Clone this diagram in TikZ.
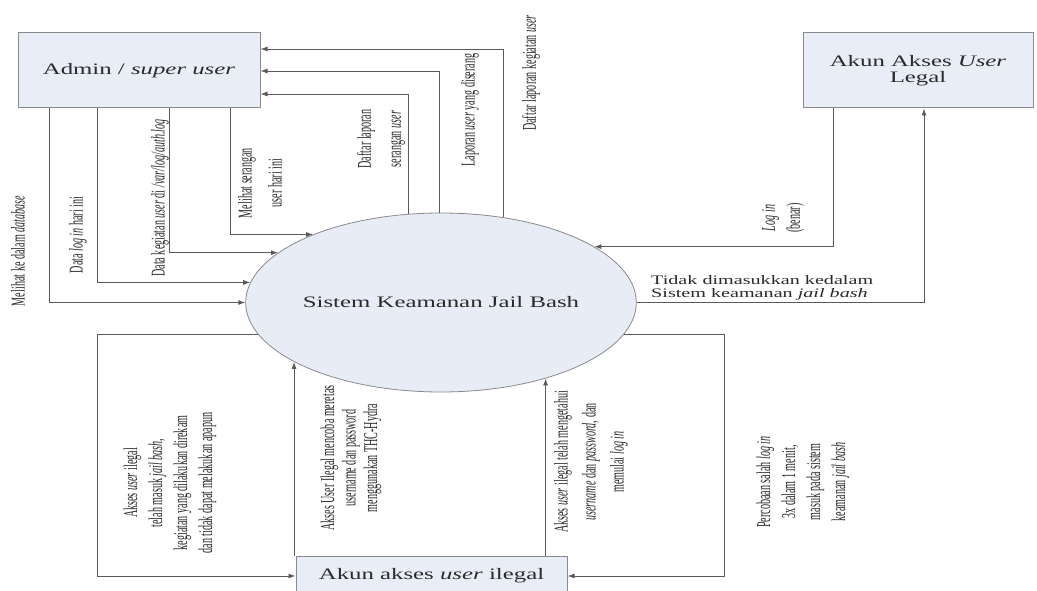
\documentclass[tikz,border=0pt]{standalone}
\usepackage{fontspec}
\setmainfont{Liberation Serif}
\newfontfamily\wideserif[FakeStretch=1.55]{Liberation Serif}
\newfontfamily\narrowserif[FakeStretch=0.52]{Liberation Serif}
\usetikzlibrary{shapes.geometric}
\usetikzlibrary{arrows.meta}
\definecolor{boxfill}{HTML}{E8EDF7}
\definecolor{procfill}{HTML}{E7ECF6}
\definecolor{edge}{HTML}{8A8A8A}
\definecolor{wire}{HTML}{5A5A5A}
\definecolor{ink}{HTML}{2A2A2A}

\begin{document}
\begin{tikzpicture}[x=1pt, y=-1pt,
    entity/.style={draw=edge, fill=boxfill, line width=1pt, minimum height=75pt, inner sep=0pt, align=center, text=ink, font=\wideserif\fontsize{16}{16}\selectfont},
    proc/.style={ellipse, draw=edge, fill=procfill, line width=0.8pt, minimum width=364pt, minimum height=179pt, inner sep=0pt, text=ink, font=\wideserif\fontsize{16}{16}\selectfont},
    flow/.style={draw=wire, line width=0.9pt, -{Latex[length=7pt,width=5pt]}},
    vlabel/.style={rotate=90, align=center, inner sep=0pt, text=ink, font=\narrowserif\fontsize{19.5}{25}\selectfont},
    hlabel/.style={align=left, inner sep=0pt, text=ink, font=\wideserif\fontsize{13}{13.5}\selectfont}]
    \path[fill=white] (0,0) rectangle (1037,591);
    \useasboundingbox (0,0) rectangle (1037,591);

    % entitas dan proses
    \node[entity, minimum width=242pt] (adm) at (139,70.5) {Admin / \textit{super user}};
    \node[entity, minimum width=230pt] (leg) at (918,70.5) {Akun Akses \textit{User}\\Legal};
    \node[proc] (sys) at (441,302.5) {Sistem Keamanan Jail Bash};
    \node[entity, minimum width=271pt, minimum height=40pt] (ilg) at (431.5,576) {Akun akses \textit{user} ilegal};

    % sistem -> admin
    \draw[flow] (sys.54) |- (adm.east |- 0,49);
    \draw[flow] (sys.91) |- (adm.east |- 0,71);
    \draw[flow] (sys.110) |- (adm.east |- 0,94);
    % admin -> sistem
    \draw[flow] (adm.south -| 230,0) |- (sys.152);
    \draw[flow] (adm.south -| 169,0) |- (sys.163);
    \draw[flow] (adm.south -| 97,0) |- (sys.174);
    \draw[flow] (adm.south -| 49,0) |- (sys.180);
    % user legal
    \draw[flow] (leg.south -| 833,0) |- (sys.20);
    \draw[flow] (sys.0) -| (leg.south -| 924,0);
    % user ilegal
    \coordinate (lloop) at (97,0);
    \coordinate (rloop) at (724,0);
    \draw[flow] (sys.190) -| (lloop |- ilg.west) -- (ilg.west);
    \draw[flow] (sys.350) -| (rloop |- ilg.east) -- (ilg.east);
    \draw[flow] (ilg.north -| sys.202) -- (sys.202);
    \draw[flow] (ilg.north -| sys.324) -- (sys.324);

    % label alur
    \node[vlabel] (lbdb) at (18,251) {Melihat ke dalam \textit{database}};
    \node[vlabel] (lblog) at (78,235) {Data \textit{log in} hari ini};
    \node[vlabel] (lbauth) at (160,198) {Data kegiatan \textit{user} di \textit{/var/log/auth.log}};
    \node[vlabel, font=\narrowserif\fontsize{19.5}{30}\selectfont] (lbsrg) at (260,183) {Melihat serangan\\user hari ini};
    \node[vlabel, font=\narrowserif\fontsize{19.5}{30}\selectfont] (lbdsrg) at (381,139) {Daftar laporan\\serangan \textit{user}};
    \node[vlabel] (lblap) at (470,110) {Laporan \textit{user} yang diserang};
    \node[vlabel] (lbkeg) at (531,73) {Daftar laporan kegiatan \textit{user}};
    \node[vlabel] (lbbenar) at (783,218) {\textit{Log in}\\(benar)};
    \node[hlabel, anchor=west] (lbtdk) at (651,288) {Tidak dimasukkan kedalam\\Sistem keamanan \textit{jail bash}};
    \node[vlabel] (lbmasuk) at (170,483) {Akses \textit{user} ilegal\\telah masuk \textit{jail bash},\\kegiatan yang dilakukan direkam\\dan tidak dapat melakukan apapun};
    \node[vlabel, font=\narrowserif\fontsize{19.5}{21.5}\selectfont] (lbhydra) at (351,458) {Akses User Ilegal mencoba meretas\\username dan password\\menggunakan THC-Hydra};
    \node[vlabel, font=\narrowserif\fontsize{19.5}{28}\selectfont] (lbtahu) at (591,462) {Akses \textit{user} ilegal telah mengetahui\\\textit{username} dan \textit{password}, dan\\memulai \textit{log in}};
    \node[vlabel] (lbsalah) at (803,482) {Percobaan salah \textit{log in}\\3x dalam 1 menit,\\masuk pada sistem\\keamanan \textit{jail bash}};
\end{tikzpicture}
\end{document}
